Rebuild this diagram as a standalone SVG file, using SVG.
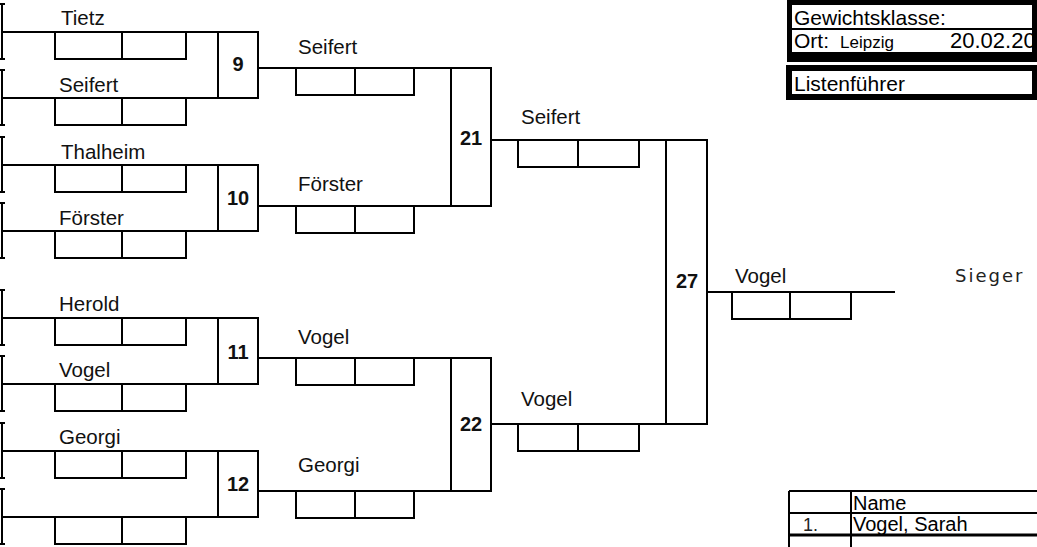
<svg xmlns="http://www.w3.org/2000/svg" width="1037" height="547" viewBox="0 0 1037 547">
<style>
.ln{stroke:#000;stroke-width:2;fill:none}
.bx{stroke:#000;stroke-width:2;fill:#fff}
.lbl{font-family:"Liberation Sans",Arial,sans-serif;font-size:20.5px;fill:#111}
.num{font-family:"Liberation Sans",Arial,sans-serif;font-size:20px;font-weight:bold;fill:#111;text-anchor:middle}
.hdr{font-family:"Liberation Sans",Arial,sans-serif;font-size:21px;fill:#000}
</style>
<defs>
<g id="s1"><rect class="ln" x="0" y="0" width="131" height="27"/><line class="ln" x1="67" y1="0" x2="67" y2="27"/></g>
<g id="s2"><rect class="ln" x="0" y="0" width="118" height="27"/><line class="ln" x1="59" y1="0" x2="59" y2="27"/></g>
<g id="bar"><path class="ln" d="M2,-28V27M0,-28H5M0,27H5"/></g>
</defs>
<rect width="1037" height="547" fill="#fff"/>

<g id="connectors">
<path class="ln" d="M2,32H218M2,98H218M2,165H218M2,231H218M2,318H218M2,384H218M2,451H218M2,517H218"/>
<path class="ln" d="M258,68H451M258,206H451M258,358H451M258,491H451"/>
<path class="ln" d="M491,140H666M491,424H666"/>
<path class="ln" d="M707,292H895"/>
</g>

<g id="bars">
<use href="#bar" x="0" y="32"/><use href="#bar" x="0" y="98"/>
<use href="#bar" x="0" y="165"/><use href="#bar" x="0" y="231"/>
<use href="#bar" x="0" y="318"/><use href="#bar" x="0" y="384"/>
<use href="#bar" x="0" y="451"/><use href="#bar" x="0" y="517"/>
</g>

<g id="scores">
<use href="#s1" x="55" y="32"/><use href="#s1" x="55" y="98"/>
<use href="#s1" x="55" y="165"/><use href="#s1" x="55" y="231"/>
<use href="#s1" x="55" y="318"/><use href="#s1" x="55" y="384"/>
<use href="#s1" x="55" y="451"/><use href="#s1" x="55" y="517"/>
<use href="#s2" x="296" y="68"/><use href="#s2" x="296" y="206"/>
<use href="#s2" x="296" y="358"/><use href="#s2" x="296" y="491"/>
<g transform="translate(518,140)"><rect class="ln" x="0" y="0" width="121" height="27"/><line class="ln" x1="60" y1="0" x2="60" y2="27"/></g>
<g transform="translate(518,424)"><rect class="ln" x="0" y="0" width="121" height="27"/><line class="ln" x1="60" y1="0" x2="60" y2="27"/></g>
<g transform="translate(732,292)"><rect class="ln" x="0" y="0" width="119" height="27"/><line class="ln" x1="58" y1="0" x2="58" y2="27"/></g>
</g>

<g id="m9"><rect class="bx" x="218" y="32" width="40" height="66"/><text class="num" x="238" y="71">9</text></g>
<g id="m10"><rect class="bx" x="218" y="165" width="40" height="66"/><text class="num" x="238" y="205">10</text></g>
<g id="m11"><rect class="bx" x="218" y="318" width="40" height="66"/><text class="num" x="238" y="359">11</text></g>
<g id="m12"><rect class="bx" x="218" y="451" width="40" height="66"/><text class="num" x="238" y="491">12</text></g>
<g id="m21"><rect class="bx" x="451" y="68" width="40" height="138"/><text class="num" x="471" y="145">21</text></g>
<g id="m22"><rect class="bx" x="451" y="358" width="40" height="133"/><text class="num" x="471" y="431">22</text></g>
<g id="m27"><rect class="bx" x="666" y="140" width="41" height="284"/><text class="num" x="687" y="288">27</text></g>

<g id="labels">
<text class="lbl" x="61" y="25">Tietz</text>
<text class="lbl" x="59" y="92">Seifert</text>
<text class="lbl" x="61" y="159">Thalheim</text>
<text class="lbl" x="59" y="225">Förster</text>
<text class="lbl" x="59" y="311">Herold</text>
<text class="lbl" x="59" y="377">Vogel</text>
<text class="lbl" x="59" y="444">Georgi</text>
<text class="lbl" x="298" y="54">Seifert</text>
<text class="lbl" x="298" y="191">Förster</text>
<text class="lbl" x="298" y="344">Vogel</text>
<text class="lbl" x="298" y="472">Georgi</text>
<text class="lbl" x="521" y="124">Seifert</text>
<text class="lbl" x="521" y="406">Vogel</text>
<text class="lbl" x="735" y="283">Vogel</text>
<text x="955" y="282" style="font-family:'DejaVu Sans',Verdana,sans-serif;font-size:18px;fill:#222;letter-spacing:2px">Sieger</text>
</g>

<g id="header">
<rect x="787" y="0" width="250" height="62" fill="#000"/>
<rect x="792" y="5" width="240" height="47" fill="#fff"/>
<line x1="792" y1="29" x2="1032" y2="29" stroke="#000" stroke-width="2"/>
<text class="hdr" x="794" y="25">Gewichtsklasse:</text>
<text class="hdr" x="794" y="48">Ort:</text>
<text class="hdr" x="840" y="48" style="font-size:17px">Leipzig</text>
<text class="hdr" x="950" y="48" style="font-size:22px">20.02.20</text>
<rect x="1032" y="0" width="5" height="62" fill="#000"/>
</g>
<g id="listenfuehrer">
<rect x="786" y="65" width="251" height="35" fill="#000"/>
<rect x="792" y="71" width="240" height="23" fill="#fff"/>
<text class="hdr" x="794" y="91">Listenführer</text>
</g>

<g id="table">
<path class="ln" d="M789,491H1037M789,513H1037M789,491V547M851,491V547"/>
<path d="M789,535H1037" stroke="#000" stroke-width="3"/>
<text class="hdr" x="853" y="510" style="font-size:20px">Name</text>
<text class="hdr" x="818" y="531" style="text-anchor:end;font-size:18px;fill:#222">1.</text>
<text class="hdr" x="853" y="531" style="font-size:20px">Vogel, Sarah</text>
</g>
</svg>
